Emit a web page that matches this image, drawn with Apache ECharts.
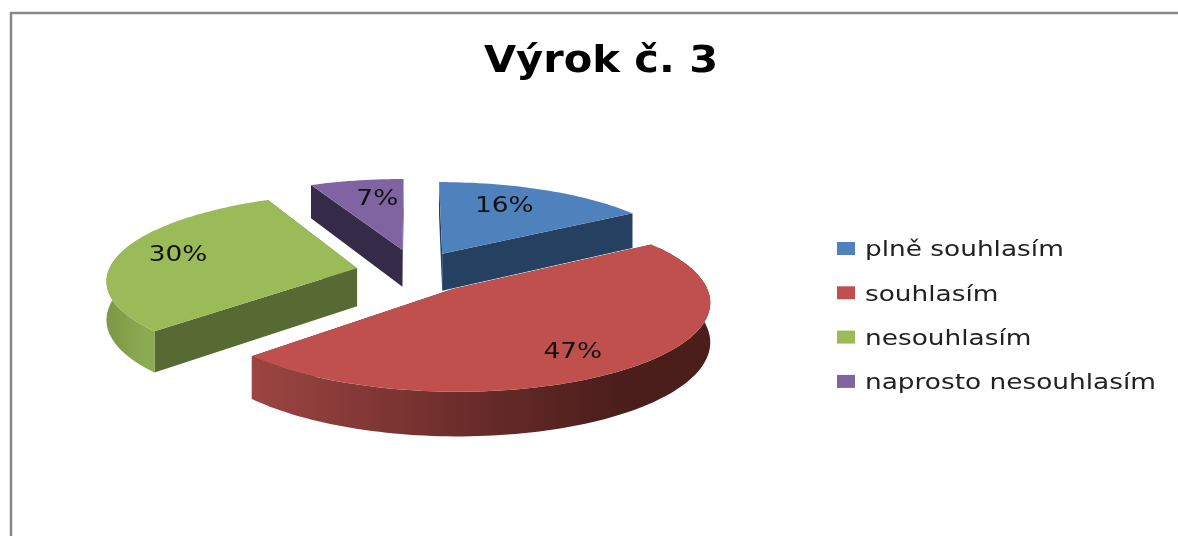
<!DOCTYPE html>
<html><head><meta charset="utf-8">
<style>html,body{margin:0;padding:0;background:#fff}#c{width:1178px;height:536px}</style>
<script src="https://cdn.jsdelivr.net/npm/echarts@6/dist/echarts.min.js"></script>
</head><body><div id="c"></div>
<script>
const titleText = 'Výrok č. 3';
const categories = ['plně souhlasím', 'souhlasím', 'nesouhlasím', 'naprosto nesouhlasím'];
const values = [16, 47, 30, 7];
const colors = ['#4F81BD', '#C0504D', '#9BBB59', '#8064A2'];
const cutColors = ['#254061', '#4E1F1D', '#586A33', '#352A47'];
const wallStops = [['#2F4D71','#2F4D71','#2F4D71'], ['#9C4542','#682B29','#4B1E1C'], ['#7C9747','#86A34D','#8DAB52'], ['#4D3C62','#4D3C62','#4D3C62']];
const explode = [0.25, 0.25, 0.23, 0.274];
const drift = [0, 0, 0, 0.016];
const labelRadius = [0.7, 0.72, 0.74, 0.7];
const labelNudge = [[-12, -1], [-4, 8], [-3, -1], [8, 0]];
const layers = [2, 3, 2, 2];

// perspective projection of the tilted pie plane
const cx = 413, cy = 272, A = 249, B = 85, K = 0.125, DEPTH = 38;
const STRETCH = 1.255;
const total = values.reduce((a, b) => a + b, 0);
function project(X, Y, lift) {
  const w = 1 + K * Y;
  return [cx + A * X / w, cy - B * Y / w + (lift ? DEPTH / w : 0)];
}
function renderSlice(i, value) {
  const before = values.slice(0, i).reduce((a, b) => a + b, 0);
  const t0 = before / total * 360, t1 = (before + value) / total * 360;
  const rad = d => d * Math.PI / 180;
  const mid = rad((t0 + t1) / 2);
  const ox = Math.sin(mid) * explode[i] + drift[i], oy = Math.cos(mid) * explode[i];
  const rim = (t, low) => project(ox + Math.sin(rad(t)), oy + Math.cos(rad(t)), low);
  const apex = low => project(ox, oy, low);
  const arc = [];
  for (let t = t0; t < t1; t += 1.5) arc.push(t);
  arc.push(t1);
  const top = [apex(false)].concat(arc.map(t => rim(t, false)));
  const front = arc.filter(t => t >= 60 && t <= 300);
  const children = [];
  [t0, t1].forEach(t => children.push({ type: 'polygon', shape: { points: [
    apex(false), rim(t, false), rim(t, true), apex(true)] }, style: { fill: cutColors[i] } }));
  if (front.length > 1) {
    const wall = front.map(t => rim(t, false)).concat(front.slice().reverse().map(t => rim(t, true)));
    children.push({ type: 'polygon', shape: { points: wall }, style: {
      fill: new echarts.graphic.LinearGradient(0, 0, 1, 0, [
        { offset: 0, color: wallStops[i][0] }, { offset: 0.5, color: wallStops[i][1] }, { offset: 0.8, color: wallStops[i][2] }]) } });
  }
  children.push({ type: 'polygon', shape: { points: top }, style: { fill: colors[i] } });
  const r = labelRadius[i];
  const lp = project(ox + Math.sin(mid) * r, oy + Math.cos(mid) * r, false);
  children.push({ type: 'text', x: lp[0] + labelNudge[i][0], y: lp[1] + labelNudge[i][1], scaleX: STRETCH,
    style: { text: Math.round(value / total * 100) + '%', fontFamily: 'DejaVu Sans', fontSize: 21,
      fill: '#111', align: 'center', verticalAlign: 'middle' } });
  return { type: 'group', children };
}
const legendItems = [];
categories.forEach((name, i) => {
  const yc = 249 + i * 44.3;
  legendItems.push({ type: 'rect', silent: true, shape: { x: 837, y: yc - 7, width: 18, height: 13 }, style: { fill: colors[i] } });
  legendItems.push({ type: 'text', silent: true, x: 865, y: yc + 2, scaleX: STRETCH,
    style: { text: name, fontFamily: 'DejaVu Sans', fontSize: 21, fill: '#222', align: 'left', verticalAlign: 'middle' } });
});
const chart = echarts.init(document.getElementById('c'), null, { renderer: 'canvas' });
chart.setOption({
  animation: false,
  backgroundColor: '#fff',
  graphic: [
    { type: 'polyline', silent: true, shape: { points: [[11, 536], [11, 13], [1178, 13]] },
      style: { stroke: '#888', lineWidth: 2.5, fill: 'none' } },
    { type: 'text', silent: true, x: 601, y: 62, scaleX: 1.093,
      style: { text: titleText, fontFamily: 'DejaVu Sans', fontWeight: 'bold', fontSize: 38, fill: '#000',
        align: 'center', verticalAlign: 'middle' } }
  ].concat(legendItems),
  series: categories.map((name, i) => ({
    type: 'custom', name, coordinateSystem: 'none', z: layers[i], silent: true,
    itemStyle: { color: colors[i] }, data: [values[i]],
    renderItem: (p, api) => renderSlice(i, api.value(0))
  }))
});
</script></body></html>
